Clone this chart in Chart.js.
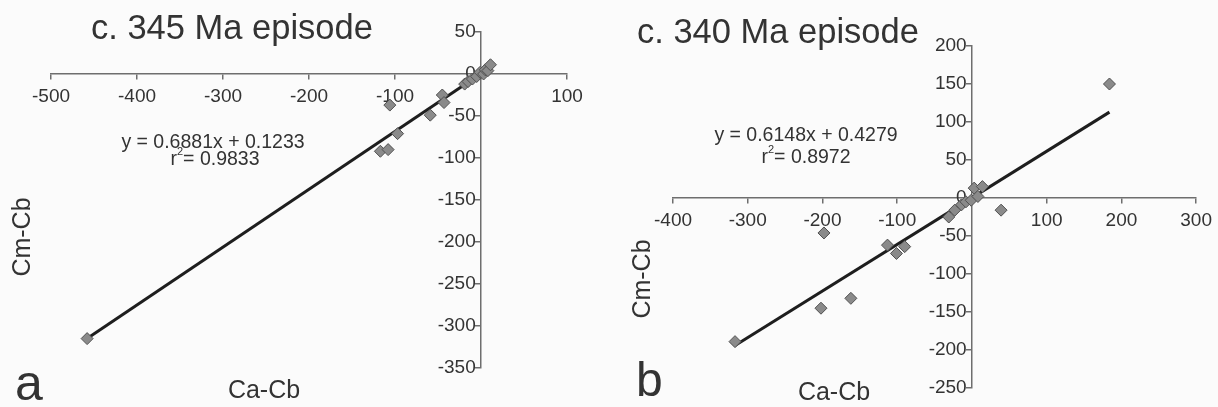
<!DOCTYPE html>
<html lang="en">
<head>
	<meta charset="utf-8">
	<title>Cm-Cb vs Ca-Cb</title>
	<script src="https://cdn.jsdelivr.net/npm/chart.js"></script>
	<style>
		body { margin: 0; background: #fbfbfb; }
		#page { position: relative; width: 1218px; height: 407px; overflow: hidden; font-family: "Liberation Sans", Arial, sans-serif; color: #333; }
		.box { position: absolute; top: 0; height: 407px; width: 609px; }
		.txt { position: absolute; line-height: 1; white-space: nowrap; }
		.eq { font-size: 19.5px; width: 300px; text-align: center; }
		.ax { font-size: 25px; }
		.rot { transform: translate(-50%, -50%) rotate(-90deg); }
		sup { font-size: 11px; line-height: 0; position: relative; top: -3px; }
	</style>
</head>
<body>
<div id="page">
	<div class="box" style="left:0"><canvas id="ep345"></canvas></div>
	<div class="box" style="left:609px"><canvas id="ep340"></canvas></div>

	<div class="txt" style="left:91px; top:10px; font-size:34.5px;">c. 345 Ma episode</div>
	<div class="txt eq" style="left:63px; top:132px;">y = 0.6881x + 0.1233</div>
	<div class="txt eq" style="left:65px; top:149px;">r<sup>2</sup>= 0.9833</div>
	<div class="txt ax" style="left:264px; top:377px; transform:translateX(-50%);">Ca-Cb</div>
	<div class="txt ax rot" style="left:21px; top:237px;">Cm-Cb</div>
	<div class="txt" style="left:15px; top:358px; font-size:50px;">a</div>

	<div class="txt" style="left:637px; top:14px; font-size:34.5px;">c. 340 Ma episode</div>
	<div class="txt eq" style="left:656px; top:125px;">y = 0.6148x + 0.4279</div>
	<div class="txt eq" style="left:656px; top:147px;">r<sup>2</sup>= 0.8972</div>
	<div class="txt ax" style="left:834px; top:379px; transform:translateX(-50%);">Ca-Cb</div>
	<div class="txt ax rot" style="left:641px; top:279px;">Cm-Cb</div>
	<div class="txt" style="left:636px; top:356px; font-size:48px;">b</div>
</div>

<script>
	// c. 345 Ma episode
	const x345 = [-458, -117, -108, -106, -97, -59, -45, -43, -19, -15, -10, -5, -1, 3, 5, 8, 11]
	const y345 = [-315, -92, -90, -37, -71, -49, -25, -34, -12, -9, -6, -3, 2, 0, 5, 4, 11]
	const fit345x = [-458, 14]
	const fit345y = [-315, 10]
	const xTicks345 = [-500, 100, 100]   // min, max, step
	const yTicks345 = [-350, 50, 50]

	// c. 340 Ma episode
	const x340 = [-317, -202, -198, -162, -113, -101, -90, -31, -23, -14, -8, -1, 3, 8, 14, 39, 184]
	const y340 = [-189, -145, -46, -132, -62, -73, -64, -25, -16, -9, -5, -3, 13, 2, 15, -16, 150]
	const fit340x = [-317, 184]
	const fit340y = [-194, 113]
	const xTicks340 = [-400, 300, 100]
	const yTicks340 = [-250, 200, 50]

	const tickFont = { family: 'Liberation Sans, Arial, sans-serif', size: 19 }
	const axisGrey = '#6e6e6e'

	function pts(xs, ys) {
		return xs.map((x, i) => ({ x: x, y: ys[i] }))
	}

	function axis(range, pos, isX) {
		return {
			type: 'linear',
			min: range[0],
			max: range[1],
			position: pos,
			afterFit: s => { if (isX) s.height = 0; else s.width = 0 },
			ticks: {
				stepSize: range[2],
				color: '#333',
				font: tickFont,
				padding: 6,
				// centred y axis draws its labels flush with the line, the trailing space keeps them clear of it
				callback: v => isX ? (v === 0 ? '' : v) : v + ' '
			},
			grid: { drawOnChartArea: false, drawTicks: true, tickLength: 5, color: axisGrey, lineWidth: 1.5 },
			border: { color: axisGrey, width: 1.5 }
		}
	}

	function makeChart(id, xs, ys, fx, fy, xr, yr, pad) {
		new Chart(document.getElementById(id), {
			type: 'scatter',
			data: {
				datasets: [
					{
						data: pts(xs, ys),
						pointStyle: 'rectRot',
						pointRadius: 6,
						backgroundColor: '#8a8a8a',
						borderColor: '#505050',
						borderWidth: 1,
						clip: false,
						order: 1
					},
					{
						type: 'line',
						data: pts(fx, fy),
						borderColor: '#1e1e1e',
						borderWidth: 3,
						pointRadius: 0,
						clip: false,
						order: 2
					}
				]
			},
			options: {
				responsive: true,
				maintainAspectRatio: false,
				animation: false,
				layout: { padding: pad },
				plugins: { legend: { display: false }, tooltip: { enabled: false } },
				scales: {
					x: axis(xr, { y: 0 }, true),
					y: axis(yr, { x: 0 }, false)
				}
			}
		})
	}

	makeChart('ep345', x345, y345, fit345x, fit345y, xTicks345, yTicks345,
		{ left: 51, right: 42, top: 32, bottom: 39 })
	makeChart('ep340', x340, y340, fit340x, fit340y, xTicks340, yTicks340,
		{ left: 64, right: 21, top: 46, bottom: 19 })
</script>
</body>
</html>
